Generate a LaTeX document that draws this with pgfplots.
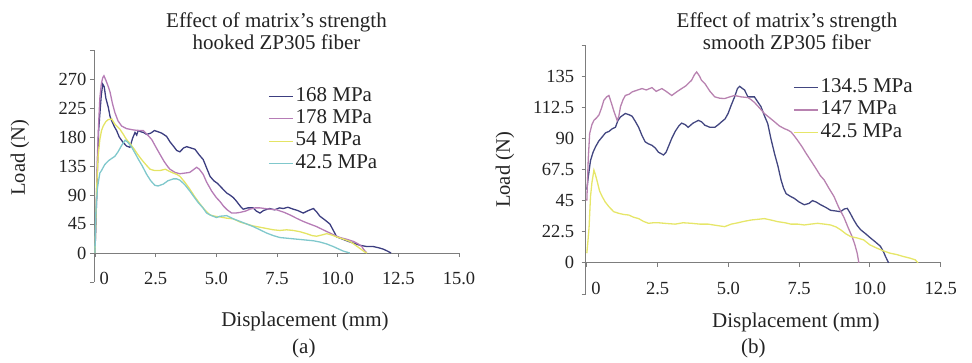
\documentclass[border=0pt]{standalone}
\usepackage{pgfplots}
\pgfplotsset{compat=1.18}
\usepackage{fontspec}
\setmainfont{Liberation Serif}
\definecolor{axisgray}{RGB}{125,125,125}
\definecolor{txt}{RGB}{35,35,35}
\definecolor{cA}{RGB}{60,62,128}
\definecolor{cB}{RGB}{182,124,182}
\definecolor{cC}{RGB}{228,228,100}
\definecolor{cD}{RGB}{128,200,204}
\definecolor{cE}{RGB}{66,70,128}
\definecolor{cF}{RGB}{184,130,176}
\definecolor{cG}{RGB}{230,230,105}
\newcommand\bigf{\fontsize{21}{25}\selectfont}

\pgfplotstableread{
x y
0 0
0.05 60
0.1 130
0.15 190
0.2 215
0.26 245
0.32 262
0.38 258
0.45 240
0.55 226
0.62 212
0.69 205
0.8 196
0.89 190
1.0 180
1.15 172
1.3 166
1.44 164
1.55 178
1.65 187
1.72 183
1.78 190
1.9 188
2.0 187
2.13 184
2.3 186
2.45 190
2.61 188
2.75 186
2.95 181
3.1 172
3.25 165
3.37 159
3.5 157
3.65 163
3.78 165
3.95 163
4.12 161
4.3 152
4.46 145
4.6 132
4.74 119
4.9 112
5.05 108
5.15 104
5.3 98
5.43 93
5.56 90
5.7 86
5.84 80
6.0 72
6.11 68
6.3 70
6.52 70
6.65 65
6.8 62
6.95 66
7.2 69
7.4 67
7.6 70
7.76 69
7.95 71
8.17 68
8.35 66
8.58 62
8.8 66
9.0 69
9.13 64
9.27 57
9.45 52
9.68 45
9.85 33
9.96 25
10.1 23
10.37 19
10.6 16
10.92 12
11.2 10
11.47 10
11.7 8
11.88 6
12.05 3
12.2 0
}\tA
\pgfplotstableread{
x y
0 0
0.05 70
0.1 150
0.15 200
0.2 240
0.26 262
0.32 272
0.37 275
0.45 268
0.55 258
0.62 250
0.72 232
0.82 218
0.95 205
1.1 197
1.3 193
1.58 191
1.8 190
1.99 190
2.15 184
2.34 176
2.5 165
2.68 153
2.85 142
3.0 134
3.09 130
3.3 125
3.5 123
3.7 124
3.9 125
4.05 129
4.19 133
4.3 130
4.46 122
4.6 110
4.81 96
5.0 86
5.15 80
5.29 73
5.45 67
5.63 62
5.8 62
5.98 63
6.2 65
6.39 68
6.6 70
6.8 70
7.0 69
7.2 68
7.49 67
7.8 63
8.04 59
8.3 54
8.58 49
8.85 45
9.13 41
9.4 36
9.68 31
9.9 27
10.1 24
10.4 21
10.65 18
10.85 14
11.0 10
11.06 6
11.2 0
}\tB
\pgfplotstableread{
x y
0 0
0.02 30
0.04 60
0.08 110
0.13 150
0.2 176
0.27 190
0.34 197
0.45 204
0.55 207
0.69 208
0.82 200
1.03 192
1.17 184
1.3 176
1.44 170
1.6 162
1.78 152
1.92 145
2.1 137
2.27 130
2.45 128
2.68 128
2.9 130
3.05 127
3.23 124
3.37 122
3.5 119
3.7 110
3.91 99
4.1 88
4.33 76
4.5 68
4.74 59
4.95 57
5.15 56
5.43 54
5.7 53
5.98 48
6.25 45
6.52 42
6.8 40
7.07 38
7.35 36
7.62 35
7.9 36
8.17 35
8.45 33
8.72 30
8.95 27
9.13 26
9.35 28
9.55 30
9.75 28
9.96 25
10.2 22
10.5 18
10.7 13
10.92 7
11.1 2
11.2 0
}\tC
\pgfplotstableread{
x y
0 0
0.02 40
0.04 65
0.1 100
0.14 110
0.2 124
0.27 128
0.4 137
0.55 143
0.7 147
0.82 150
0.95 157
1.1 167
1.24 175
1.35 172
1.5 165
1.65 155
1.78 146
1.95 135
2.13 122
2.3 112
2.47 105
2.6 104
2.82 107
3.0 112
3.23 115
3.37 115
3.5 113
3.7 106
3.91 96
4.1 86
4.26 78
4.45 70
4.6 62
4.8 58
5.01 55
5.15 57
5.43 58
5.7 53
5.98 49
6.25 45
6.52 41
6.8 36
7.07 31
7.35 27
7.62 24
7.9 23
8.17 22
8.45 21
8.72 20
9.0 19
9.27 17
9.55 14
9.82 10
10.05 6
10.23 3
10.5 0
}\tD
\pgfplotstableread{
x y
0 53
0.05 62
0.13 74
0.22 80
0.31 84
0.42 88
0.54 91
0.66 94
0.78 95
0.9 97
1.01 98
1.1 103
1.19 105.5
1.36 108
1.5 107
1.6 106
1.72 102
1.83 98
1.95 92
2.06 87.5
2.18 86
2.3 85
2.42 83
2.53 80
2.71 78
2.8 80
2.88 84
3.0 90
3.12 95
3.25 99
3.35 101
3.47 100
3.58 98
3.75 101
3.94 103
4.05 102
4.17 99.5
4.35 98
4.52 98
4.65 100
4.76 102
4.88 104
4.99 108
5.1 114
5.22 120
5.32 126
5.4 127.6
5.5 126
5.57 125
5.69 120
5.8 120
5.92 120
6.05 116
6.15 113
6.28 106
6.39 100.7
6.5 90
6.63 79
6.75 70
6.86 60
6.95 54
7.04 50
7.2 48
7.33 46.6
7.5 44
7.68 42
7.85 43
7.97 45
8.1 44
8.26 42
8.45 40
8.61 38
8.8 37.5
8.96 37
9.1 39
9.2 39.4
9.3 36
9.43 31
9.55 27
9.67 24
9.85 21
10.02 18
10.2 15
10.37 12
10.48 8
10.55 4.6
10.66 0
}\tE
\pgfplotstableread{
x y
0 45
0.05 75
0.1 93.5
0.18 100
0.25 103
0.35 105
0.43 107
0.52 112
0.6 117.5
0.7 120
0.78 121
0.86 116
0.95 110
1.07 103
1.13 106
1.19 113
1.28 118
1.36 121
1.5 122
1.6 123.6
1.8 125
1.95 126
2.1 125
2.3 126.7
2.45 124
2.65 126
2.8 124
3.0 121
3.2 124
3.35 126
3.5 128
3.7 132
3.8 136
3.88 138
3.98 135
4.05 132
4.17 129.6
4.35 124
4.52 120
4.7 119
4.87 118.8
5.05 120
5.22 121
5.45 120
5.69 119.5
5.8 118
5.92 116
6.1 112
6.27 108
6.45 105
6.63 102
6.8 99
6.98 97
7.1 96
7.21 94.7
7.32 92
7.44 88.7
7.6 84
7.75 79
7.91 74
8.1 68
8.25 63
8.38 60
8.55 54
8.73 48
8.9 40
9.08 33
9.22 26
9.37 19
9.47 13
9.55 7
9.61 0
}\tF
\pgfplotstableread{
x y
0 7
0.04 16
0.08 26
0.13 48
0.18 58
0.25 67
0.3 64
0.37 58.6
0.45 52
0.54 48
0.65 44
0.78 40.6
0.95 37
1.13 35.8
1.3 35
1.48 34.6
1.65 33
1.83 32
2.0 30
2.18 28.6
2.35 29
2.53 29
2.8 28.5
3.12 28
3.4 29
3.7 28.6
4.0 28
4.29 28
4.6 27
4.87 26.2
5.1 28
5.34 29
5.55 30
5.81 31
6.05 31.5
6.27 32
6.5 31
6.74 29.8
7.0 29
7.21 28
7.45 28
7.68 27.4
7.9 28
8.15 28.6
8.4 28
8.61 27.4
8.8 26
8.96 24
9.15 21
9.32 19
9.55 18
9.78 16.6
10.0 13
10.25 10.6
10.5 8.5
10.71 7
10.95 6
11.18 4.6
11.4 3.5
11.6 2.2
11.7 0
}\tG

\begin{document}
\begin{tikzpicture}
\useasboundingbox (0,0) rectangle (972pt,362pt);
\pgfplotsset{
 mystyle/.style={
  scale only axis, anchor=south west,
  axis y line=left, axis x line=middle,
  axis line style={-, draw=axisgray, line width=0.9pt},
  every tick/.style={draw=axisgray, line width=0.9pt},
  major tick length=4pt,
  tick align=outside,
  hide obscured x ticks=false, hide obscured y ticks=false,
  ticklabel style={font=\fontsize{18.5}{20}\selectfont, text=txt},
  xticklabel style={yshift=-12pt},
  clip=false,
  legend cell align=left,
  legend image code/.code={\draw[##1] (0pt,0pt) -- (24pt,0pt);},
  legend style={draw=none, fill=none, inner sep=0pt, font=\bigf, row sep=0pt,
    nodes={inner xsep=2pt, inner ysep=1pt, text height=15pt, text depth=5.5pt, text=txt}},
  every axis plot/.append style={line width=1.3pt, mark=none},
 }
}
% ---------- (a)
\begin{axis}[mystyle, at={(94pt,80pt)}, width=365pt, height=232pt,
  xmin=-0.04, xmax=15, ymin=-45, ymax=315,
  xtick={0,2.5,5,7.5,10,12.5,15},
  xticklabels={\hphantom{00}0,2.5,5.0,7.5,10.0,12.5,15.0},
  ytick={-45,0,45,90,135,180,225,270,315},
  yticklabels={,0,45,90,135,180,225,270,},
  legend style={at={(rel axis cs:0.477,0.85)}, anchor=north west}]
\addplot[cA] table {\tA};
\addlegendentry{168 MPa}
\addplot[cB] table {\tB};
\addlegendentry{178 MPa}
\addplot[cC] table {\tC};
\addlegendentry{54 MPa}
\addplot[cD] table {\tD};
\addlegendentry{42.5 MPa}
\node[anchor=base, font=\bigf, text=txt] at (rel axis cs:0.5,1) [yshift=22.5pt] {Effect of matrix’s strength};
\node[anchor=base, font=\bigf, text=txt] at (rel axis cs:0.5,1) [yshift=0pt] {hooked ZP305 fiber};
\node[anchor=base, font=\bigf, text=txt] at (rel axis cs:0.578,0) [yshift=-44pt] {Displacement (mm)};
\node[anchor=base, font=\bigf, text=txt] at (rel axis cs:0.575,0) [yshift=-71pt] {(a)};
\node[rotate=90, font=\fontsize{20.5}{24}\selectfont, text=txt] at (rel axis cs:-0.2027,0.535) {Load (N)};
\end{axis}
% ---------- (b)
\begin{axis}[mystyle, at={(585.7pt,68pt)}, width=355pt, height=249pt,
  xmin=-0.04, xmax=12.5, ymin=-22.5, ymax=157.5,
  xtick={0,2.5,5,7.5,10,12.5},
  xticklabels={\hphantom{00}0,2.5,5.0,7.5,10.0,12.5},
  ytick={-22.5,0,22.5,45,67.5,90,112.5,135,157.5},
  yticklabels={,0,22.5,45,67.5,90,112.5,135,},
  yticklabel style={xshift=-4pt},
  legend style={at={(rel axis cs:0.584,0.875)}, anchor=north west}]
\addplot[cE] table {\tE};
\addlegendentry{134.5 MPa}
\addplot[cF] table {\tF};
\addlegendentry{147 MPa}
\addplot[cG] table {\tG};
\addlegendentry{42.5 MPa}
\node[anchor=base, font=\bigf, text=txt] at (rel axis cs:0.567,1) [yshift=17.5pt] {Effect of matrix’s strength};
\node[anchor=base, font=\bigf, text=txt] at (rel axis cs:0.567,1) [yshift=-5pt] {smooth ZP305 fiber};
\node[anchor=base, font=\bigf, text=txt] at (rel axis cs:0.592,0) [yshift=-33pt] {Displacement (mm)};
\node[anchor=base, font=\bigf, text=txt] at (rel axis cs:0.472,0) [yshift=-59pt] {(b)};
\node[rotate=90, font=\fontsize{20.5}{24}\selectfont, text=txt] at (rel axis cs:-0.2273,0.498) {Load (N)};
\end{axis}
\end{tikzpicture}
\end{document}
